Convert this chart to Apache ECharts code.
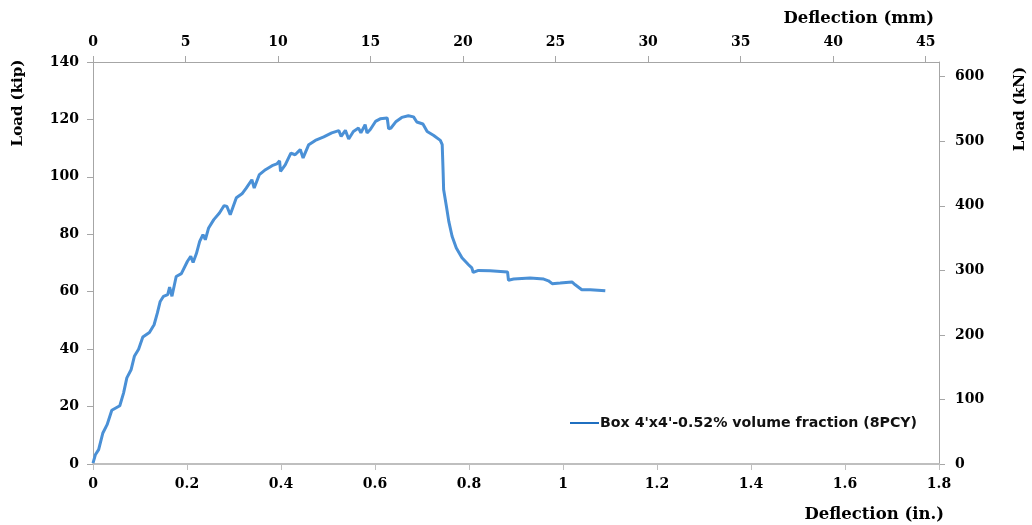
<!DOCTYPE html>
<html>
<head>
<meta charset="utf-8">
<script src="https://cdn.jsdelivr.net/npm/echarts@6/dist/echarts.min.js"></script>
<style>html,body{margin:0;padding:0;background:#fff}#c{width:1032px;height:525px}</style>
</head>
<body>
<div id="c"></div>
<script>
var seriesName = "Box 4'x4'-0.52% volume fraction (8PCY)";
var deflectionIn = [0,0.005,0.012,0.021,0.030,0.040,0.057,0.065,0.072,0.081,0.088,0.097,0.106,0.120,0.130,0.137,0.143,0.150,0.159,0.163,0.168,0.177,0.188,0.201,0.208,0.213,0.220,0.227,0.234,0.239,0.246,0.257,0.269,0.279,0.285,0.292,0.305,0.317,0.326,0.338,0.343,0.354,0.367,0.381,0.391,0.397,0.399,0.409,0.421,0.430,0.441,0.447,0.459,0.473,0.491,0.508,0.523,0.528,0.537,0.544,0.554,0.565,0.570,0.579,0.583,0.590,0.601,0.611,0.626,0.629,0.634,0.645,0.657,0.671,0.682,0.689,0.702,0.711,0.725,0.739,0.743,0.745,0.746,0.752,0.757,0.764,0.773,0.785,0.799,0.806,0.809,0.820,0.845,0.882,0.884,0.895,0.930,0.959,0.969,0.977,0.994,1.019,1.026,1.040,1.058,1.090];
var loadKip = [0.3,3.2,5,10.8,13.7,18.7,20.3,24.7,30,32.8,37.5,40,44.2,45.8,48.5,52.6,56.6,58.4,59,61.6,58.4,65.3,66.3,70.6,72.3,70.2,73.3,77.5,79.9,78.1,82.2,85.1,87.4,90,89.7,86.8,92.7,94.1,96.1,99,96.1,100.8,102.5,103.9,104.5,105.6,101.9,104.2,108.3,107.7,109.5,106.6,111.2,112.7,113.9,115.3,116.1,114.1,116.2,113.2,115.8,117,115.3,118.2,115.3,116.5,119.3,120.2,120.5,116.7,117,119.3,120.7,121.3,120.9,119.1,118.4,115.8,114.4,112.7,111.2,101.4,95.6,89.7,84.5,79.3,75.2,71.8,69.4,68.3,66.7,67.4,67.3,66.9,64,64.4,64.8,64.4,63.8,62.8,63,63.4,62.4,60.7,60.7,60.3];
var kipTicks = {min:0, max:140, interval:20};
var inTicks = {min:0, max:1.8, interval:0.2};
var mmTicks = {min:0, max:45.72, interval:5};
var knTicks = {min:0, max:622.75, interval:100};

var data = deflectionIn.map(function(x,i){return [x, loadKip[i]];});
var serif = "'DejaVu Serif', 'Liberation Serif', serif";
var lblStyle = {fontFamily: serif, fontWeight:'bold', fontSize:14, color:'#000'};
var axisLineGray = {show:true, lineStyle:{color:'#a6a6a6', width:1}};

var chart = echarts.init(document.getElementById('c'), null, {renderer:'canvas'});
chart.setOption({
  backgroundColor:'#fff',
  animation:false,
  grid:{left:93, right:93, top:62, bottom:61, containLabel:false},
  legend:{
    show:true, left:570, top:416, padding:0, itemWidth:29, itemHeight:2, icon:'rect', itemGap:4,
    itemStyle:{color:'#1F6FC0'},
    textStyle:{fontFamily:"'DejaVu Sans', 'Open Sans', sans-serif", fontSize:14.2, fontWeight:'bold', color:'#111', padding:[0,0,0,-4]},
    data:[seriesName]
  },
  xAxis:[
    {type:'value', position:'bottom', min:inTicks.min, max:inTicks.max, interval:inTicks.interval,
     axisLine:{show:true, onZero:false, lineStyle:{color:'#bfbfbf', width:2}},
     axisTick:{show:true, length:6, lineStyle:{color:'#bfbfbf'}},
     axisLabel:Object.assign({margin:13}, lblStyle), splitLine:{show:false}},
    {type:'value', position:'top', min:mmTicks.min, max:mmTicks.max, interval:mmTicks.interval,
     axisLine:Object.assign({onZero:false}, axisLineGray),
     axisTick:{show:true, length:6, lineStyle:{color:'#a6a6a6'}},
     axisLabel:Object.assign({margin:13, showMaxLabel:false}, lblStyle), splitLine:{show:false}}
  ],
  yAxis:[
    {type:'value', position:'left', min:kipTicks.min, max:kipTicks.max, interval:kipTicks.interval,
     axisLine:Object.assign({onZero:false}, axisLineGray),
     axisTick:{show:true, length:6, lineStyle:{color:'#a6a6a6'}},
     axisLabel:Object.assign({margin:14}, lblStyle), splitLine:{show:false}},
    {type:'value', position:'right', min:knTicks.min, max:knTicks.max, interval:knTicks.interval,
     axisLine:Object.assign({onZero:false}, axisLineGray),
     axisTick:{show:true, length:6, lineStyle:{color:'#a6a6a6'}},
     axisLabel:Object.assign({margin:16, showMaxLabel:false}, lblStyle), splitLine:{show:false}}
  ],
  series:[{
    name:seriesName, type:'line', xAxisIndex:0, yAxisIndex:0, data:data,
    showSymbol:false, symbol:'none', smooth:false,
    lineStyle:{color:'#4A90D6', width:3}, itemStyle:{color:'#1F6FC0'}
  }],
  graphic:[
    {type:'text', style:{text:'Load (kip)', fontFamily:serif, fontWeight:'bold', fontSize:15, fill:'#000', align:'center', verticalAlign:'middle'}, x:18, y:103, rotation:Math.PI/2},
    {type:'text', style:{text:'Load (kN)', fontFamily:serif, fontWeight:'bold', fontSize:15, fill:'#000', align:'center', verticalAlign:'middle'}, x:1020, y:109, rotation:Math.PI/2},
    {type:'text', style:{text:'Deflection (mm)', fontFamily:serif, fontWeight:'bold', fontSize:16.5, fill:'#000', align:'right', verticalAlign:'middle'}, x:934, y:19},
    {type:'text', style:{text:'Deflection (in.)', fontFamily:serif, fontWeight:'bold', fontSize:16.5, fill:'#000', align:'right', verticalAlign:'middle'}, x:944, y:515}
  ]
});
</script>
</body>
</html>
